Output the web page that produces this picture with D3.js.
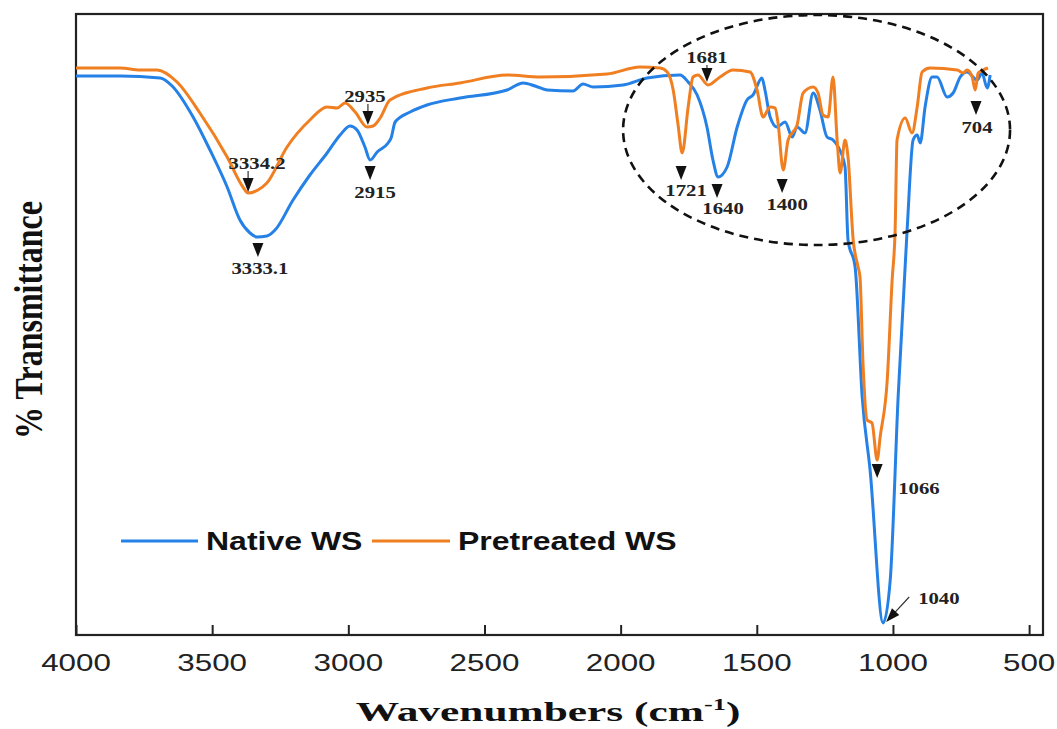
<!DOCTYPE html>
<html><head><meta charset="utf-8">
<script src="https://cdn.jsdelivr.net/npm/d3@7"></script>
<style>body{margin:0;background:#fff}</style>
</head><body>
<svg id="c" width="1057" height="729"></svg>
<script>
// ---- data ----
const nativeWn = [4000,3838,3691,3647,3570,3508,3445,3398,3361,3335,3299,3269,3203,3141,3078,3030,2994,2968,2939,2920,2894,2854,2843,2828,2773,2711,2590,2417,2358,2314,2270,2175,2138,2101,1991,1903,1782,1752,1719,1683,1661,1642,1609,1572,1536,1514,1481,1470,1451,1426,1396,1370,1352,1323,1293,1268,1242,1220,1201,1176,1165,1139,1113,1084,1036,1010,981,948,926,911,900,882,856,838,801,779,753,728,691,673,654,643];
const nativeT = [55.9,55.9,55.7,54.9,51.8,48.5,44.8,41.5,40.2,39.8,39.9,40.5,43.5,46.0,48.2,50.0,50.9,50.5,48.8,47.5,48.3,49.2,49.7,51.3,52.3,53.0,53.7,54.5,55.2,54.9,54.5,54.4,55.1,54.8,55.0,55.7,56.0,55.3,54.0,50.8,47.5,45.8,46.8,50.8,53.5,54.0,55.7,54.5,51.8,50.8,51.3,49.8,50.8,50.2,54.2,52.5,49.8,49.5,48.8,46.8,39.5,36.8,23.8,16.5,1.2,5.5,23.8,40.5,49.5,50.0,49.2,52.8,55.8,55.8,53.8,54.2,55.8,56.3,55.5,56.2,54.7,56.0];
const pretreatedWn = [4000,3838,3765,3703,3629,3545,3445,3387,3368,3332,3299,3225,3141,3078,3041,3012,2975,2931,2909,2883,2847,2711,2590,2417,2296,2050,1929,1855,1829,1807,1789,1774,1752,1734,1716,1679,1635,1587,1525,1499,1477,1451,1433,1422,1403,1385,1352,1330,1293,1275,1257,1238,1220,1205,1194,1176,1165,1146,1128,1121,1110,1095,1077,1058,1047,1021,1003,992,985,955,930,911,893,864,764,742,728,709,698,687,669,651];
const pretreatedT = [56.7,56.7,56.5,56.5,55.3,52.2,47.8,44.8,44.2,44.5,45.2,48.8,51.5,52.8,52.7,53.2,52.3,50.8,50.9,51.7,53.5,54.7,55.2,56.0,55.8,56.1,56.8,56.7,56.3,54.5,51.0,48.2,52.8,55.8,56.0,55.0,55.8,56.5,56.3,54.5,51.8,52.8,52.7,51.2,46.5,49.5,51.0,54.2,54.8,54.2,52.0,51.8,55.8,49.5,46.2,49.5,47.8,39.5,36.8,35.8,27.2,21.5,21.2,17.5,19.8,25.5,35.5,40.5,49.5,51.7,50.2,52.8,56.3,56.7,56.5,56.2,56.5,55.8,54.5,56.2,56.5,56.7];
const xTicks = [4000,3500,3000,2500,2000,1500,1000,500];
const seriesNames = ["Native WS","Pretreated WS"];
const peakLabels = ["3334.2","3333.1","2935","2915","1721","1640","1400","1681","704","1066","1040"];
const peakWn =     [3368,3332,2928,2920,1778,1646,1407,1683,695,1058,1025];
const peakT =      [44.3,37.8,51.0,45.5,45.5,43.7,44.2,55.3,52.0,15.7,1.3];
const regionWn = [1991,570];   // dashed ellipse extent
const regionT  = [39.0,62.0];

(function(){
// ---- layout ----
const mL = 76, mR = 1043, mT = 14, mB = 635;
const colors = ["#2581e6","#f07f22"];
const SX = 1.28; // horizontal text stretch
const annLayout = [
  {stem:8, dx:9, dy:-23, a:"middle"},
  {stem:0, dx:2, dy:17, a:"middle"},
  {stem:8, dx:-3, dy:-23, a:"middle"},
  {stem:0, dx:5, dy:18, a:"middle"},
  {stem:0, dx:5, dy:16, a:"middle"},
  {stem:0, dx:6, dy:16, a:"middle"},
  {stem:0, dx:5, dy:17, a:"middle"},
  {stem:4, dx:0, dy:-19, a:"middle"},
  {stem:0, dx:1, dy:18, a:"middle"},
  {stem:0, dx:21, dy:16, a:"start"},
  {stem:0, dx:32, dy:-18, a:"start", diag:true}
];

const svg = d3.select("#c");
const x = d3.scaleLinear().domain([4000, 449]).range([mL, mR]);
const y = d3.scaleLinear().domain([0, 62.1]).range([mB, mT]);

svg.append("rect").attr("x", mL).attr("y", mT).attr("width", mR-mL).attr("height", mB-mT)
  .attr("fill","none").attr("stroke","#222").attr("stroke-width",2.2);

const ax = d3.axisBottom(x).tickValues(xTicks).tickSize(-10).tickFormat("");
const g = svg.append("g").attr("transform",`translate(0,${mB})`).call(ax);
g.select(".domain").remove();
g.selectAll(".tick line").attr("stroke","#222").attr("stroke-width",2);

xTicks.forEach(v=>{
  svg.append("text").attr("transform",`translate(${x(v)},671) scale(${SX},1)`)
    .attr("text-anchor","middle").attr("font-family","'Liberation Sans',Arial,sans-serif")
    .attr("font-size",24.5).attr("fill","#222").text(v);
});

const line = d3.line().x(d=>x(d[0])).y(d=>y(d[1])).curve(d3.curveMonotoneX);
const nat = nativeWn.map((w,i)=>[w,nativeT[i]]);
const pre = pretreatedWn.map((w,i)=>[w,pretreatedT[i]]);
svg.append("path").datum(nat).attr("d",line).attr("fill","none").attr("stroke",colors[0]).attr("stroke-width",3).attr("stroke-linejoin","round");
svg.append("path").datum(pre).attr("d",line).attr("fill","none").attr("stroke",colors[1]).attr("stroke-width",3).attr("stroke-linejoin","round");

svg.append("ellipse")
  .attr("cx",(x(regionWn[0])+x(regionWn[1]))/2).attr("cy",(y(regionT[0])+y(regionT[1]))/2)
  .attr("rx",Math.abs(x(regionWn[1])-x(regionWn[0]))/2).attr("ry",Math.abs(y(regionT[1])-y(regionT[0]))/2)
  .attr("fill","none").attr("stroke","#111").attr("stroke-width",2.6).attr("stroke-dasharray","9,6");

peakLabels.forEach((lab,i)=>{
  const L = annLayout[i];
  const px = x(peakWn[i]), py = y(peakT[i]);
  const a = svg.append("g").attr("transform",`translate(${px},${py})`);
  if (L.diag) {
    const ang = Math.atan2(-25, 23);
    const gg = a.append("g").attr("transform",`rotate(${ang*180/Math.PI+90})`);
    gg.append("line").attr("x1",0).attr("y1",-12).attr("x2",0).attr("y2",-34).attr("stroke","#333").attr("stroke-width",1.2);
    gg.append("path").attr("d","M-5,-14L5,-14L0,0Z").attr("fill","#111");
  } else {
    if (L.stem>0) a.append("line").attr("x1",0).attr("x2",0).attr("y1",-13-L.stem).attr("y2",-13).attr("stroke","#333").attr("stroke-width",1.2);
    a.append("path").attr("d","M-5.5,-14L5.5,-14L0,0Z").attr("fill","#111");
  }
  svg.append("text").attr("transform",`translate(${px+L.dx},${py+L.dy}) scale(1.22,1)`)
    .attr("text-anchor",L.a).attr("font-family","'Liberation Serif','Times New Roman',serif")
    .attr("font-weight","bold").attr("font-size",17).attr("fill","#222").text(lab);
});

const legY = 541;
const legItems = [{x1:121,x2:198,tx:206},{x1:372,x2:450,tx:458}];
seriesNames.forEach((n,i)=>{
  const it = legItems[i];
  svg.append("line").attr("x1",it.x1).attr("x2",it.x2).attr("y1",legY).attr("y2",legY).attr("stroke",colors[i]).attr("stroke-width",3);
  svg.append("text").attr("transform",`translate(${it.tx},${legY+9}) scale(${SX},1)`)
    .attr("font-family","'Liberation Sans',Arial,sans-serif").attr("font-weight","bold").attr("font-size",25).attr("fill","#111").text(n);
});

const xt = svg.append("text").attr("transform",`translate(548,721) scale(1.55,1)`)
  .attr("text-anchor","middle").attr("font-family","'Liberation Serif','Times New Roman',serif")
  .attr("font-weight","bold").attr("font-size",28).attr("fill","#111");
xt.append("tspan").text("Wavenumbers (cm");
xt.append("tspan").attr("dy",-11).attr("font-size",17).text("-1");
xt.append("tspan").attr("dy",11).text(")");

svg.append("text").attr("transform",`translate(42,320) scale(${SX},1) rotate(-90)`)
  .attr("text-anchor","middle").attr("font-family","'Liberation Serif','Times New Roman',serif")
  .attr("font-weight","bold").attr("font-size",32).attr("fill","#111").text("% Transmittance");
})();
</script>
</body></html>
